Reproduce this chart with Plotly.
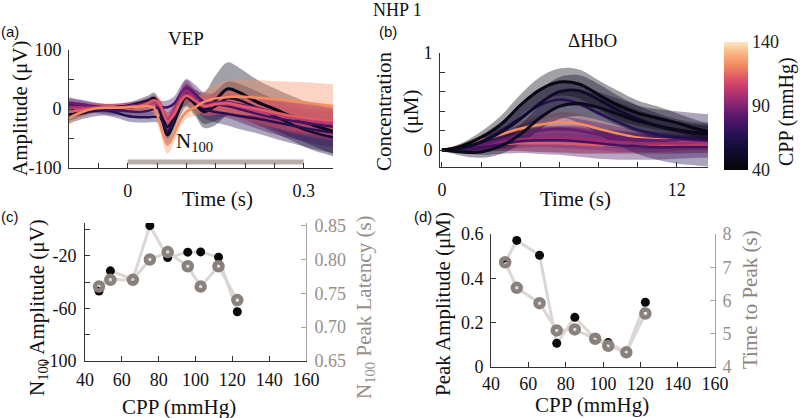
import plotly.graph_objects as go
from plotly.colors import sample_colorscale, unlabel_rgb

W, H = 800, 418
SERIF = "Liberation Serif"
SANS = "Liberation Sans"

# ---------------- data ----------------
CPP = [47.6, 53.8, 66.0, 75.2, 84.9, 95.8, 102.8, 112.5, 122.7]
N100_AMP = [-46.7, -31.4, -37.8, 3.0, -21.3, -17.2, -17.0, -21.0, -62.5]
N100_LAT = [0.760, 0.770, 0.770, 0.800, 0.811, 0.790, 0.760, 0.790, 0.740]
HBO_PEAK = [0.472, 0.571, 0.504, 0.107, 0.224, 0.128, 0.110, 0.066, 0.292]
HBO_TTP = [7.15, 6.38, 5.92, 5.10, 5.13, 4.85, 4.64, 4.44, 5.61]

STIM_WINDOW = [0.0, 0.3]
STIM_LEVEL = [-90, -90]

VEP_T = [-0.10, -0.08, -0.06, -0.04, -0.02, 0.00, 0.02, 0.035, 0.045, 0.055, 0.068, 0.08,
         0.09, 0.10, 0.115, 0.13, 0.15, 0.17, 0.19, 0.22, 0.25, 0.28, 0.31, 0.35]
vep_48 = [-10, -5, 0, 2, 3, 5, 10, 14, 18, 0, -44, -20, 4, 22, 10, -2, 15, 34, 28, 12, 0, -13, -25, -38]
vep_48_sd = [10, 8, 7, 6, 6, 6, 7, 9, 10, 12, 14, 14, 15, 18, 22, 30, 42, 45, 42, 38, 35, 35, 35, 38]
vep_54 = [5, 4, 2, 0, 0, 2, 5, 8, 12, -2, -30, -12, 10, 20, 8, -5, 5, 18, 15, 2, -12, -26, -38, -48]
vep_54_sd = [8, 7, 6, 6, 6, 6, 7, 8, 9, 10, 12, 12, 12, 14, 16, 20, 25, 28, 28, 28, 28, 28, 30, 32]
vep_66 = [-12, -8, -4, -2, -6, -12, -14, -14, -13, -15, -38, -15, 15, 28, 15, 0, -5, -8, -12, -16, -22, -28, -34, -40]
vep_66_sd = [12, 10, 9, 9, 9, 9, 9, 9, 9, 10, 12, 12, 12, 14, 14, 15, 18, 20, 22, 25, 28, 30, 32, 35]
vep_75 = [8, 6, 3, 0, -2, -4, -5, -3, 0, 3, 3, 10, 25, 35, 25, 12, 8, 5, 0, -8, -15, -20, -25, -30]
vep_75_sd = [12, 10, 9, 9, 9, 9, 9, 9, 9, 10, 12, 12, 14, 16, 16, 16, 18, 20, 22, 25, 28, 30, 32, 35]
vep_85 = [10, 8, 5, 3, 3, 5, 8, 12, 15, 2, -21, -5, 22, 35, 22, 10, 12, 12, 8, 2, -6, -13, -20, -26]
vep_85_sd = [8, 7, 6, 6, 6, 6, 6, 7, 8, 9, 10, 10, 12, 14, 12, 12, 14, 15, 16, 18, 20, 22, 22, 22]
vep_96 = [4, 3, 2, 2, 2, 3, 5, 8, 12, 5, -17, 0, 20, 30, 18, 6, 10, 10, 6, 0, -6, -12, -18, -22]
vep_96_sd = [8, 7, 6, 6, 6, 6, 6, 7, 8, 9, 10, 10, 12, 14, 12, 12, 14, 15, 16, 18, 20, 22, 22, 22]
vep_103 = [0, 1, 2, 2, 2, 3, 5, 7, 10, 5, -17, -2, 15, 24, 14, 4, 8, 8, 4, -3, -9, -15, -20, -25]
vep_103_sd = [10, 8, 7, 6, 6, 6, 6, 7, 8, 10, 12, 12, 12, 12, 14, 16, 18, 20, 22, 24, 25, 26, 27, 28]
vep_113 = [-5, -2, 1, 2, 2, 3, 5, 10, 15, 8, -21, -8, 12, 22, 14, 5, 8, 10, 6, 0, -6, -12, -16, -20]
vep_113_sd = [10, 8, 7, 6, 6, 6, 6, 7, 8, 10, 12, 12, 12, 12, 14, 16, 18, 20, 22, 24, 25, 26, 27, 28]
vep_123 = [-15, -6, 0, 2, 2, 3, 4, 5, 2, -25, -60, -40, -18, -5, 3, 12, 18, 20, 21, 19, 17, 14, 10, 4]
vep_123_sd = [12, 9, 7, 6, 6, 6, 7, 8, 10, 14, 16, 14, 12, 12, 14, 18, 25, 28, 30, 30, 30, 32, 35, 38]

HBO_T = [0, 1, 2, 3, 4, 5, 6, 7, 8, 9, 10, 11, 12, 13, 13.6]
HBO_CPP = [44.0, 47.6, 53.8, 66.0, 75.2, 84.9, 95.8, 102.8, 112.5, 122.7]
hbo_44 = [0, 0.04, 0.13, 0.26, 0.46, 0.62, 0.70, 0.68, 0.57, 0.46, 0.38, 0.33, 0.28, 0.22, 0.19]
hbo_44_sd = [0, 0.03, 0.06, 0.09, 0.11, 0.13, 0.14, 0.15, 0.15, 0.15, 0.13, 0.12, 0.10, 0.09, 0.09]
hbo_48 = [0, -0.02, -0.02, 0.04, 0.16, 0.33, 0.45, 0.48, 0.44, 0.37, 0.30, 0.25, 0.21, 0.18, 0.17]
hbo_48_sd = [0, 0.04, 0.06, 0.08, 0.10, 0.12, 0.13, 0.13, 0.13, 0.12, 0.11, 0.10, 0.09, 0.08, 0.08]
hbo_54 = [0, 0.02, 0.08, 0.18, 0.32, 0.48, 0.60, 0.61, 0.52, 0.41, 0.32, 0.25, 0.20, 0.17, 0.16]
hbo_54_sd = [0, 0.04, 0.07, 0.10, 0.12, 0.14, 0.15, 0.16, 0.16, 0.15, 0.14, 0.13, 0.12, 0.11, 0.11]
hbo_66 = [0, 0.02, 0.09, 0.20, 0.33, 0.46, 0.52, 0.48, 0.38, 0.29, 0.21, 0.16, 0.13, 0.11, 0.10]
hbo_66_sd = [0, 0.03, 0.06, 0.09, 0.12, 0.15, 0.18, 0.20, 0.22, 0.24, 0.25, 0.26, 0.27, 0.27, 0.27]
hbo_75 = [0, 0.01, 0.03, 0.06, 0.09, 0.10, 0.10, 0.09, 0.07, 0.05, 0.04, 0.03, 0.03, 0.03, 0.03]
hbo_75_sd = [0, 0.04, 0.08, 0.10, 0.12, 0.14, 0.15, 0.16, 0.16, 0.15, 0.14, 0.13, 0.12, 0.11, 0.11]
hbo_85 = [0, 0.01, 0.05, 0.10, 0.16, 0.20, 0.22, 0.20, 0.16, 0.13, 0.11, 0.10, 0.10, 0.10, 0.10]
hbo_85_sd = [0, 0.03, 0.06, 0.08, 0.10, 0.12, 0.12, 0.12, 0.12, 0.11, 0.10, 0.09, 0.08, 0.08, 0.08]
hbo_96 = [0, 0.02, 0.05, 0.08, 0.11, 0.13, 0.13, 0.12, 0.10, 0.08, 0.07, 0.07, 0.07, 0.08, 0.08]
hbo_96_sd = [0, 0.03, 0.05, 0.07, 0.09, 0.10, 0.11, 0.11, 0.10, 0.10, 0.09, 0.09, 0.08, 0.08, 0.08]
hbo_103 = [0, 0.01, 0.04, 0.07, 0.09, 0.10, 0.11, 0.10, 0.09, 0.08, 0.07, 0.06, 0.06, 0.06, 0.06]
hbo_103_sd = [0, 0.03, 0.06, 0.08, 0.10, 0.12, 0.13, 0.13, 0.12, 0.11, 0.10, 0.09, 0.09, 0.09, 0.09]
hbo_113 = [0, 0.02, 0.04, 0.06, 0.07, 0.07, 0.07, 0.06, 0.05, 0.05, 0.04, 0.04, 0.04, 0.05, 0.05]
hbo_113_sd = [0, 0.03, 0.05, 0.07, 0.08, 0.09, 0.10, 0.10, 0.09, 0.09, 0.08, 0.08, 0.08, 0.08, 0.08]
hbo_123 = [0, 0.04, 0.10, 0.16, 0.22, 0.26, 0.29, 0.27, 0.22, 0.17, 0.13, 0.11, 0.10, 0.09, 0.085]
hbo_123_sd = [0, 0.03, 0.05, 0.07, 0.08, 0.09, 0.10, 0.10, 0.09, 0.08, 0.07, 0.06, 0.06, 0.06, 0.06]

CB_TICKS = [40, 90, 140]

# ---------------- styling ----------------
CSCALE = [[0.0, "#050507"], [0.15, "#110c30"], [0.29, "#2a1258"], [0.42, "#5a176d"],
          [0.55, "#9a2a75"], [0.68, "#d5456a"], [0.82, "#f48a5f"], [0.92, "#fbb98a"],
          [1.0, "#fde5bc"]]
CMIN, CMAX = 40, 140


def color_for(c):
    return sample_colorscale(CSCALE, [(c - CMIN) / (CMAX - CMIN)])[0]


def rgba(col, a):
    r, g, b = unlabel_rgb(col)
    return f"rgba({int(r)},{int(g)},{int(b)},{a})"


def px(x, y):
    return x / W, 1 - y / H


fig = go.Figure()


def add_band(t, m, s, col, xa, ya, alpha):
    lo = [a - b for a, b in zip(m, s)]
    hi = [a + b for a, b in zip(m, s)]
    fig.add_trace(go.Scatter(x=t, y=lo, mode="lines", line=dict(width=0, shape="spline"),
                             xaxis=xa, yaxis=ya, showlegend=False, hoverinfo="skip"))
    fig.add_trace(go.Scatter(x=t, y=hi, mode="lines", line=dict(width=0, shape="spline"),
                             fill="tonexty", fillcolor=rgba(col, alpha),
                             xaxis=xa, yaxis=ya, showlegend=False, hoverinfo="skip"))


def add_line(t, m, col, xa, ya, w):
    fig.add_trace(go.Scatter(x=t, y=m, mode="lines", line=dict(color=col, width=w, shape="spline"),
                             xaxis=xa, yaxis=ya, showlegend=False))


# ---- panel (a) VEP ----
vep_sets = [(CPP[0], vep_48, vep_48_sd), (CPP[1], vep_54, vep_54_sd), (CPP[2], vep_66, vep_66_sd),
            (CPP[3], vep_75, vep_75_sd), (CPP[4], vep_85, vep_85_sd), (CPP[5], vep_96, vep_96_sd),
            (CPP[6], vep_103, vep_103_sd), (CPP[7], vep_113, vep_113_sd), (CPP[8], vep_123, vep_123_sd)]
for c, m, s in vep_sets:
    add_band(VEP_T, m, s, color_for(c), "x", "y", 0.38)
for c, m, s in vep_sets:
    add_line(VEP_T, m, color_for(c), "x", "y", 3 if c < 50 else 2.5)

fig.add_trace(go.Scatter(x=STIM_WINDOW, y=STIM_LEVEL, mode="lines",
                         line=dict(color="#b9aeaa", width=5), xaxis="x", yaxis="y",
                         showlegend=False))

# ---- panel (b) HbO ----
hbo_sets = [(HBO_CPP[0], hbo_44, hbo_44_sd), (HBO_CPP[1], hbo_48, hbo_48_sd),
            (HBO_CPP[2], hbo_54, hbo_54_sd), (HBO_CPP[3], hbo_66, hbo_66_sd),
            (HBO_CPP[4], hbo_75, hbo_75_sd), (HBO_CPP[5], hbo_85, hbo_85_sd),
            (HBO_CPP[6], hbo_96, hbo_96_sd), (HBO_CPP[7], hbo_103, hbo_103_sd),
            (HBO_CPP[8], hbo_113, hbo_113_sd), (HBO_CPP[9], hbo_123, hbo_123_sd)]
for c, m, s in reversed(hbo_sets):
    add_band(HBO_T, m, s, color_for(c), "x2", "y2", 0.38)
for c, m, s in reversed(hbo_sets):
    add_line(HBO_T, m, color_for(c), "x2", "y2", 3 if c < 60 else 2.5)

# colorbar carrier
cbar = dict(
    x=724 / W, xanchor="left", xpad=0,
    y=1 - 106 / H, yanchor="middle", ypad=0,
    len=128, lenmode="pixels",
    thickness=24, thicknessmode="pixels",
    outlinewidth=0, tickvals=CB_TICKS, ticks="",
    tickfont=dict(family=SERIF, size=18, color="#222"),
)
cmarker = dict(color=[CMIN], colorscale=CSCALE, cmin=CMIN, cmax=CMAX,
               showscale=True, colorbar=cbar)
fig.add_trace(go.Scatter(x=[None], y=[None], mode="markers", xaxis="x2", yaxis="y2",
                         showlegend=False, marker=cmarker))

# ---- panel (c) ----
LIGHT = "#dcd6d4"
RING = "#8a817d"
fig.add_trace(go.Scatter(x=CPP, y=N100_AMP, mode="lines", line=dict(color=LIGHT, width=3),
                         xaxis="x3", yaxis="y3", showlegend=False))
fig.add_trace(go.Scatter(x=CPP, y=N100_LAT, mode="lines", line=dict(color=LIGHT, width=3),
                         xaxis="x3", yaxis="y5", showlegend=False))
fig.add_trace(go.Scatter(x=CPP, y=N100_AMP, mode="markers",
                         marker=dict(color="#0a0a0a", size=9, line=dict(width=0)),
                         xaxis="x3", yaxis="y3", showlegend=False))
fig.add_trace(go.Scatter(x=CPP, y=N100_LAT, mode="markers",
                         marker=dict(symbol="circle-open", color=RING, size=8,
                                     line=dict(width=4.5, color=RING)),
                         xaxis="x3", yaxis="y5", showlegend=False))

# ---- panel (d) ----
fig.add_trace(go.Scatter(x=CPP, y=HBO_PEAK, mode="lines", line=dict(color=LIGHT, width=3),
                         xaxis="x4", yaxis="y4", showlegend=False))
fig.add_trace(go.Scatter(x=CPP, y=HBO_TTP, mode="lines", line=dict(color=LIGHT, width=3),
                         xaxis="x4", yaxis="y6", showlegend=False))
fig.add_trace(go.Scatter(x=CPP, y=HBO_PEAK, mode="markers",
                         marker=dict(color="#0a0a0a", size=9, line=dict(width=0)),
                         xaxis="x4", yaxis="y4", showlegend=False))
fig.add_trace(go.Scatter(x=CPP, y=HBO_TTP, mode="markers",
                         marker=dict(symbol="circle-open", color=RING, size=8,
                                     line=dict(width=4.5, color=RING)),
                         xaxis="x4", yaxis="y6", showlegend=False))

# ---------------- axes ----------------
TF = dict(family=SERIF, size=18, color="#111")
GRAYF = dict(family=SERIF, size=18, color="#978e8b")


def ax(domain, rng, tickvals, ticktext, anchor, side=None, color="#333", font=TF, standoff=4,
       overlaying=None):
    d = dict(domain=domain, range=rng, tickvals=tickvals, ticktext=ticktext, anchor=anchor,
             showgrid=False, zeroline=False, showline=True, linecolor=color, linewidth=1,
             ticks="inside", ticklen=5, tickcolor=color, tickfont=font,
             ticklabelstandoff=standoff, automargin=False)
    if side:
        d["side"] = side
    if overlaying:
        d["overlaying"] = overlaying
    return d


def lab(vals, shown, fmt):
    return [fmt(v) if v in shown else "" for v in vals]


a_x = [-0.1, -0.05, 0, 0.05, 0.1, 0.15, 0.2, 0.25, 0.3, 0.35]
a_y = [-100, -50, 0, 50, 100]
b_x = [0, 2, 4, 6, 8, 10, 12]
b_y = [0, 0.2, 0.4, 0.6, 0.8, 1.0]
c_x = [40, 60, 80, 100, 120, 140, 160]
c_y = [-100, -80, -60, -40, -20, 0]
c_y2 = [0.65, 0.70, 0.75, 0.80, 0.85]
d_y = [0, 0.2, 0.4, 0.6]
d_y2 = [4, 5, 6, 7, 8]

fig.update_layout(
    xaxis=ax([69 / W, 333 / W], [-0.1, 0.35], a_x,
             lab(a_x, [0, 0.3], lambda v: "0" if v == 0 else "0.3"), "y", standoff=6),
    yaxis=ax([1 - 168 / H, 1 - 50 / H], [-100, 100], a_y,
             lab(a_y, [-100, 0, 100], lambda v: str(v)), "x", standoff=3),
    xaxis2=ax([440 / W, 708 / W], [-0.1, 13.6], b_x, lab(b_x, [0, 12], str), "y2", standoff=6),
    yaxis2=ax([1 - 167 / H, 1 - 53 / H], [-0.175, 1.0], b_y, ["0", "", "", "", "", "1"], "x2",
              standoff=3),
    xaxis3=ax([85 / W, 306 / W], [40, 160], c_x, [str(v) for v in c_x], "y3", standoff=2),
    yaxis3=ax([1 - 361 / H, 1 - 223 / H], [-100, 5], c_y,
              lab(c_y, [-100, -60, -20], str), "x3", standoff=4),
    yaxis5=ax([1 - 361 / H, 1 - 223 / H], [0.65, 0.854], c_y2, [f"{v:.2f}" for v in c_y2], "x3",
              side="right", color="#aaa2a0", font=GRAYF, overlaying="y3", standoff=4),
    xaxis4=ax([491 / W, 715 / W], [40, 160], c_x, [str(v) for v in c_x], "y4", standoff=0),
    yaxis4=ax([1 - 367 / H, 1 - 234 / H], [0, 0.6], d_y, ["0", "0.2", "0.4", "0.6"], "x4",
              standoff=3),
    yaxis6=ax([1 - 367 / H, 1 - 234 / H], [4, 8], d_y2, [str(v) for v in d_y2], "x4",
              side="right", color="#aaa2a0", font=GRAYF, overlaying="y4", standoff=3),
    width=W, height=H, margin=dict(l=0, r=0, t=0, b=0, autoexpand=False),
    paper_bgcolor="white", plot_bgcolor="rgba(0,0,0,0)", showlegend=False,
)


# ---------------- text ----------------
def note(text, x, y, size=21, angle=0, color="#111", family=SERIF, xanchor="center"):
    X, Y = px(x, y)
    fig.add_annotation(text=text, x=X, y=Y, xref="paper", yref="paper", showarrow=False,
                       textangle=angle, xanchor=xanchor, yanchor="middle",
                       font=dict(family=family, size=size, color=color))


note("NHP 1", 397, 10, size=18)
note("(a)", 10, 32, size=15, family=SANS)
note("(b)", 388, 32, size=15, family=SANS)
note("(c)", 10, 216, size=15, family=SANS)
note("(d)", 423, 216, size=15, family=SANS)
note("VEP", 186, 39, size=19)
note("ΔHbO", 592, 40, size=19)
note("Amplitude (μV)", 20, 108, angle=-90)
note("Time (s)", 217, 199)
note("N<sub>100</sub>", 174, 142, size=21, xanchor="left")
note("Concentration<br>(μM)", 397, 112, angle=-90)
note("Time (s)", 575, 199)
note("CPP (mmHg)", 786, 112, angle=-90, size=20)
note("N<sub>100</sub> Amplitude (μV)", 38, 308, angle=-90)
note("N<sub>100</sub> Peak Latency (s)", 365, 307, angle=-90, color="#978e8b")
note("CPP (mmHg)", 179, 407)
note("Peak Amplitude (μM)", 443, 304, angle=-90)
note("Time to Peak (s)", 750, 300, angle=-90, color="#8e8582")
note("CPP (mmHg)", 592, 405)

fig.write_html("out.html", config={"displayModeBar": False},
               post_script="document.body.style.margin='0';document.body.style.overflow='hidden';")
